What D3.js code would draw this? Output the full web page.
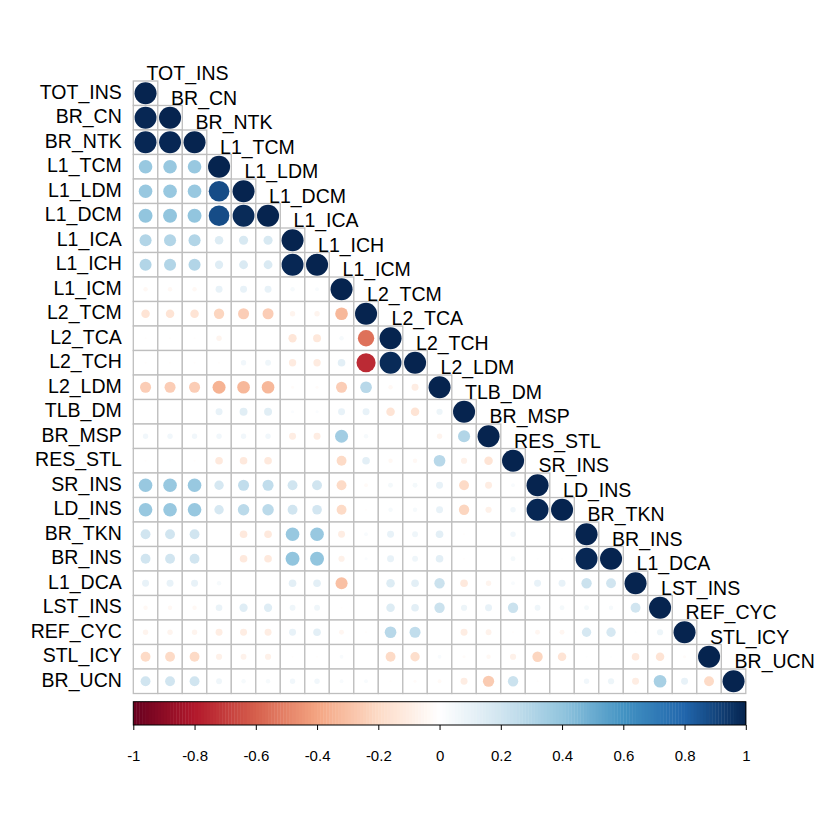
<!DOCTYPE html>
<html><head><meta charset="utf-8">
<script src="https://cdn.jsdelivr.net/npm/d3@7"></script>
<style>body{margin:0;background:#fff}svg{display:block}</style>
</head><body>
<svg id="chart" width="840" height="840"></svg>
<script>
const labels = ["TOT_INS","BR_CN","BR_NTK","L1_TCM","L1_LDM","L1_DCM","L1_ICA","L1_ICH","L1_ICM","L2_TCM","L2_TCA","L2_TCH","L2_LDM","TLB_DM","BR_MSP","RES_STL","SR_INS","LD_INS","BR_TKN","BR_INS","L1_DCA","LST_INS","REF_CYC","STL_ICY","BR_UCN"];
// lower-triangle correlations, row i holds columns 0..i-1 (diagonal = 1)
const corrRows = [
  [],
  [0.99],
  [0.99,0.99],
  [0.38,0.38,0.38],
  [0.38,0.38,0.38,0.88],
  [0.4,0.4,0.4,0.88,0.98],
  [0.3,0.3,0.3,0.15,0.17,0.17],
  [0.3,0.3,0.3,0.14,0.16,0.16,0.99],
  [-0.04,-0.04,-0.04,0.1,0.1,0.1,0.04,0.03],
  [-0.15,-0.15,-0.15,-0.22,-0.25,-0.25,-0.06,-0.06,-0.33],
  [-0.01,-0.01,-0.01,-0.06,0,0,-0.14,-0.13,0.04,-0.55],
  [-0.01,-0.01,-0.01,-0.01,0.06,0.07,-0.11,-0.11,0.12,-0.75,0.98],
  [-0.25,-0.25,-0.25,-0.35,-0.33,-0.33,-0.02,-0.02,-0.25,0.28,-0.04,-0.1],
  [0,0,0,0.1,0.13,0.13,0.02,0.02,0.1,0.1,-0.15,-0.15,0.08],
  [0.06,0.06,0.06,0.06,0.06,0.06,-0.1,-0.1,0.35,0.04,0,0,-0.06,0.3],
  [-0.01,-0.01,-0.01,-0.12,-0.12,-0.12,0,0,-0.2,0.12,-0.04,-0.04,0.28,-0.08,-0.15],
  [0.38,0.38,0.38,0.18,0.25,0.25,0.2,0.2,-0.2,-0.03,0.05,0.05,0.1,-0.2,-0.1,0.03],
  [0.38,0.38,0.38,0.18,0.27,0.27,0.2,0.19,-0.2,-0.01,0.04,0.04,0.1,-0.22,-0.08,0.06,0.99],
  [0.2,0.2,0.2,0,-0.12,-0.12,0.38,0.38,-0.1,0.03,0.1,0.07,0.12,-0.01,0,0.06,0,0],
  [0.2,0.2,0.2,0,-0.12,-0.12,0.4,0.4,-0.08,0.02,0.1,0.07,0.12,-0.01,0,0.05,0.01,0.01,0.99],
  [0.1,0.1,0.1,0.04,0,0,0.12,0.12,-0.3,0,0.15,0.12,0.22,-0.12,-0.06,0.03,0.1,0.1,0.22,0.2],
  [-0.04,-0.04,-0.04,0.09,0.14,0.14,0.07,0.07,-0.01,0,0.15,0.12,0.22,0.08,0.1,0.22,0.07,0.05,0.05,0.04,0.2],
  [-0.06,-0.06,-0.06,-0.1,-0.1,-0.1,0.1,0.12,-0.05,-0.01,0.28,0.25,0,-0.1,-0.07,-0.01,-0.05,-0.05,0.18,0.18,0.01,0.08],
  [-0.2,-0.2,-0.2,-0.08,-0.07,-0.08,-0.01,-0.01,0.03,0,-0.2,-0.18,0.03,-0.02,-0.04,-0.08,-0.22,-0.15,0.01,0.01,-0.12,-0.15,-0.02],
  [0.2,0.2,0.2,0.07,0.04,0.04,0.06,0.06,0.03,0.03,-0.01,-0.02,-0.03,-0.1,-0.26,0.22,-0.01,0,0.06,0.08,-0.1,0.33,0.1,-0.2]
];
const paletteColors = ["#67001F","#B2182B","#D6604D","#F4A582","#FDDBC7","#FFFFFF","#D1E5F0","#92C5DE","#4393C3","#2166AC","#06244F"];
const tickValues = [-1,-0.8,-0.6,-0.4,-0.2,0,0.2,0.4,0.6,0.8,1];
const tickLabels = ["-1","-0.8","-0.6","-0.4","-0.2","0","0.2","0.4","0.6","0.8","1"];

const svg = d3.select("#chart");
const font = "'Liberation Sans', Arial, Helvetica, sans-serif";
const n = labels.length;
const x0 = 133.3, y0 = 81, cell = 24.5;
const x = d3.scaleBand().domain(labels).range([x0, x0 + n*cell]).padding(0);
const y = d3.scaleBand().domain(labels).range([y0, y0 + n*cell]).padding(0);
const color = d3.scaleLinear().domain(d3.range(11).map(i => -1 + i*0.2)).range(paletteColors).interpolate(d3.interpolateRgb);

const cells = [];
labels.forEach((rl, i) => {
  corrRows[i].forEach((v, j) => cells.push({row: rl, col: labels[j], v}));
  cells.push({row: rl, col: rl, v: 1});
});

const g = svg.append("g");
g.selectAll("rect.cell").data(cells).join("rect")
  .attr("class","cell")
  .attr("x", d => x(d.col)).attr("y", d => y(d.row))
  .attr("width", cell).attr("height", cell)
  .attr("fill", "#fff").attr("stroke", "#BEBEBE").attr("stroke-width", 1.3);

g.selectAll("circle").data(cells).join("circle")
  .attr("cx", d => x(d.col) + cell/2).attr("cy", d => y(d.row) + cell/2)
  .attr("r", d => 0.45 * cell * Math.sqrt(Math.abs(d.v)))
  .attr("fill", d => color(d.v));

// row labels
g.selectAll("text.rl").data(labels).join("text")
  .attr("class","rl")
  .attr("x", x0 - 11.5).attr("y", d => y(d) + cell/2 + 5.5)
  .attr("text-anchor","end")
  .attr("font-family", font).attr("font-size", 19.5).attr("fill","#000")
  .text(d => d);

// diagonal column labels
g.selectAll("text.cl").data(labels).join("text")
  .attr("class","cl")
  .attr("x", d => x(d) + cell/2 + 1).attr("y", d => y(d) - 1)
  .attr("text-anchor","start")
  .attr("font-family", font).attr("font-size", 19.5).attr("fill","#000")
  .text(d => d);

// colour legend
const cbTop = 701.7, cbH = 23.3;
const cx = d3.scaleLinear().domain([-1,1]).range([x0, x0 + n*cell]);
const steps = d3.range(200).map(i => -1 + (i+0.5)*0.01);
svg.append("g").selectAll("rect").data(steps).join("rect")
  .attr("x", d => cx(d - 0.005)).attr("y", cbTop)
  .attr("width", cx(0.01) - cx(0) + 0.4).attr("height", cbH)
  .attr("fill", d => color(d));
svg.append("rect").attr("x", cx(-1)).attr("y", cbTop).attr("width", cx(1)-cx(-1)).attr("height", cbH)
  .attr("fill","none").attr("stroke","#000").attr("stroke-width",1);

const axis = d3.axisBottom(cx).tickValues(tickValues).tickSize(5).tickPadding(20)
  .tickFormat((d, i) => tickLabels[i]);
const ax = svg.append("g").attr("transform", `translate(0,${cbTop + cbH})`).call(axis);
ax.select(".domain").remove();
ax.selectAll("line").attr("stroke","#000");
ax.selectAll("text").attr("font-family", font).attr("font-size", 15).attr("fill","#000");
</script>
</body></html>
